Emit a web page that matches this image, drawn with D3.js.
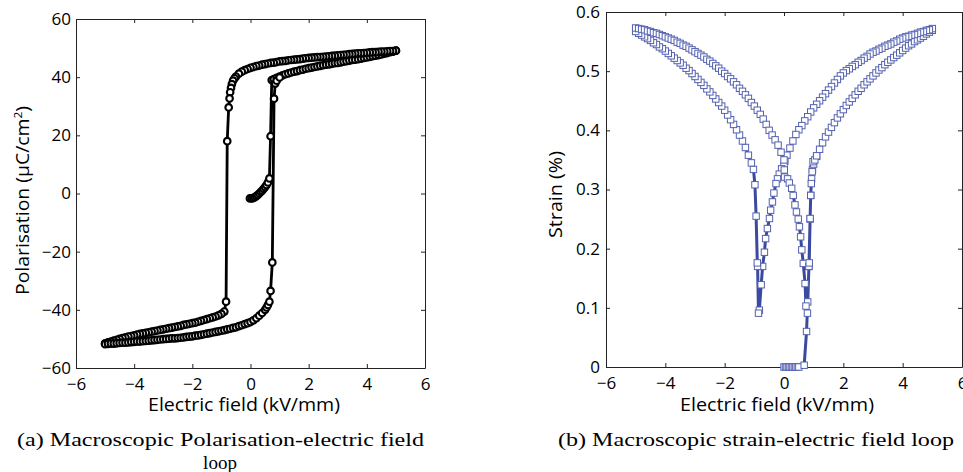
<!DOCTYPE html>
<html>
<head>
<meta charset="utf-8">
<script src="https://cdn.jsdelivr.net/npm/d3@7/dist/d3.min.js"></script>
<style>
  html, body { margin: 0; padding: 0; background: #fff; }
  svg { display: block; }
  .tick text { font-family: "Open Sans", sans-serif; font-size: 17px; fill: #000; }
  .axis path, .axis line { stroke: #222; }
</style>
</head>
<body>
<svg id="fig" width="963" height="472"></svg>
<script>
// ---- axis ticks ----
const fieldTicks = [-6, -4, -2, 0, 2, 4, 6];
const polarisationTicks = [-60, -40, -20, 0, 20, 40, 60];
const strainTicks = [0, 0.1, 0.2, 0.3, 0.4, 0.5, 0.6];

// ---- (a) polarisation vs electric field, [E (kV/mm), P (uC/cm^2)] ----
// virgin loading from zero field up to +5 kV/mm
const peVirgin = [
  [-0.02,-1.7],[0.05,-1.7],[0.1,-1.5],[0.15,-1.3],[0.2,-0.9],[0.25,-0.5],[0.3,0.0],[0.35,0.5],
  [0.4,1.0],[0.45,1.6],[0.5,2.2],[0.55,2.9],[0.6,3.8],[0.65,5.2],[0.69,19.7],[0.73,39.0],
  [0.8,39.3],[0.9,39.8],[1.0,40.2],[1.1,40.6],[1.2,41.0],[1.3,41.3],[1.4,41.6],[1.5,41.9],
  [1.6,42.1],[1.7,42.4],[1.8,42.6],[1.9,42.9],[2.0,43.1],[2.1,43.3],[2.2,43.5],[2.3,43.7],
  [2.4,43.9],[2.5,44.1],[2.6,44.3],[2.7,44.4],[2.8,44.6],[2.9,44.8],[3.0,44.9],[3.1,45.1],
  [3.2,45.3],[3.3,45.5],[3.4,45.7],[3.5,45.9],[3.6,46.0],[3.7,46.2],[3.8,46.4],[3.9,46.6],
  [4.0,46.8],[4.1,47.0],[4.2,47.2],[4.3,47.4],[4.4,47.6],[4.5,47.8],[4.6,48.1],[4.7,48.3],
  [4.8,48.6],[4.9,48.8],[5.0,49.1]
];
// unloading from +5 down to -5 kV/mm
const peDescending = [
  [5.0,49.1],[4.9,49.0],[4.8,49.0],[4.7,48.9],[4.6,48.8],[4.5,48.8],[4.4,48.7],[4.3,48.6],
  [4.2,48.6],[4.1,48.5],[4.0,48.4],[3.9,48.3],[3.8,48.2],[3.7,48.2],[3.6,48.1],[3.5,48.0],
  [3.4,47.9],[3.3,47.8],[3.2,47.7],[3.1,47.6],[3.0,47.5],[2.9,47.4],[2.8,47.3],[2.7,47.2],
  [2.6,47.1],[2.5,47.0],[2.4,46.9],[2.3,46.9],[2.2,46.8],[2.1,46.7],[2.0,46.6],[1.9,46.5],
  [1.8,46.4],[1.7,46.2],[1.6,46.1],[1.5,46.0],[1.4,45.9],[1.3,45.8],[1.2,45.6],[1.1,45.5],
  [1.0,45.4],[0.9,45.2],[0.8,45.0],[0.7,44.9],[0.6,44.7],[0.5,44.5],[0.4,44.3],[0.3,44.0],
  [0.2,43.8],[0.1,43.5],[0.0,43.2],[-0.1,42.8],[-0.2,42.4],[-0.3,41.9],[-0.4,41.2],[-0.5,40.2],
  [-0.55,39.6],[-0.6,38.8],[-0.64,37.6],[-0.67,36.3],[-0.7,34.8],[-0.72,32.7],[-0.75,29.6],
  [-0.8,18.0],[-0.84,-37.2],[-0.9,-40.6],
  [-1.0,-41.4],[-1.1,-41.9],[-1.2,-42.3],[-1.3,-42.6],[-1.4,-42.9],[-1.5,-43.2],[-1.6,-43.5],
  [-1.7,-43.8],[-1.8,-44.1],[-1.9,-44.4],[-2.0,-44.6],[-2.1,-44.8],[-2.2,-45.0],[-2.3,-45.2],
  [-2.4,-45.5],[-2.5,-45.7],[-2.6,-45.9],[-2.7,-46.1],[-2.8,-46.3],[-2.9,-46.5],[-3.0,-46.7],
  [-3.1,-46.9],[-3.2,-47.1],[-3.3,-47.3],[-3.4,-47.5],[-3.5,-47.7],[-3.6,-47.9],[-3.7,-48.1],
  [-3.8,-48.3],[-3.9,-48.5],[-4.0,-48.8],[-4.1,-49.0],[-4.2,-49.2],[-4.3,-49.5],[-4.4,-49.7],
  [-4.5,-50.0],[-4.6,-50.3],[-4.7,-50.6],[-4.8,-50.9],[-4.9,-51.2],[-5.0,-51.5]
];
// reloading from -5 kV/mm back through positive switching
const peAscending = [
  [-5.0,-51.8],[-4.9,-51.7],[-4.8,-51.6],[-4.7,-51.6],[-4.6,-51.5],[-4.5,-51.4],[-4.4,-51.3],
  [-4.3,-51.3],[-4.2,-51.2],[-4.1,-51.1],[-4.0,-51.0],[-3.9,-50.9],[-3.8,-50.9],[-3.7,-50.8],
  [-3.6,-50.7],[-3.5,-50.6],[-3.4,-50.5],[-3.3,-50.4],[-3.2,-50.3],[-3.1,-50.2],[-3.0,-50.1],
  [-2.9,-50.0],[-2.8,-49.9],[-2.7,-49.8],[-2.6,-49.8],[-2.5,-49.7],[-2.4,-49.6],[-2.3,-49.5],
  [-2.2,-49.3],[-2.1,-49.2],[-2.0,-49.1],[-1.9,-48.9],[-1.8,-48.8],[-1.7,-48.6],[-1.6,-48.4],
  [-1.5,-48.2],[-1.4,-48.0],[-1.3,-47.8],[-1.2,-47.6],[-1.1,-47.4],[-1.0,-47.2],[-0.9,-47.0],
  [-0.8,-46.7],[-0.7,-46.5],[-0.6,-46.2],[-0.5,-46.0],[-0.4,-45.6],[-0.3,-45.3],[-0.2,-44.9],
  [-0.1,-44.6],[0.0,-44.2],[0.1,-43.6],[0.2,-42.9],[0.3,-42.0],[0.4,-41.1],[0.5,-40.0],
  [0.55,-39.2],[0.6,-38.3],[0.65,-37.2],[0.69,-33.5],[0.75,-23.7],[0.81,32.6],[0.85,37.8],
  [0.9,38.8],[1.0,39.9]
];

// ---- (b) strain vs electric field, [E (kV/mm), S (%)] ----
const seVirgin = [
  [0.0,0],[0.05,0],[0.1,0],[0.15,0],[0.2,0],[0.25,0],[0.3,0],[0.35,0],[0.4,0],[0.45,0],[0.5,0],
  [0.68,0.003],[0.76,0.06],[0.8,0.11],[0.84,0.17],[0.88,0.25],[0.9,0.29],[0.93,0.318],
  [0.96,0.334],[1.0,0.343],[1.1,0.356],[1.2,0.368],[1.3,0.379],[1.4,0.389],[1.5,0.397],
  [1.6,0.405],[1.7,0.413],[1.8,0.421],[1.9,0.428],[2.0,0.435],[2.1,0.442],[2.2,0.448],
  [2.3,0.454],[2.4,0.460],[2.5,0.466],[2.6,0.471],[2.7,0.477],[2.8,0.482],[2.9,0.487],
  [3.0,0.492],[3.1,0.497],[3.2,0.502],[3.3,0.506],[3.4,0.511],[3.5,0.515],[3.6,0.519],
  [3.7,0.523],[3.8,0.527],[3.9,0.531],[4.0,0.535],[4.1,0.539],[4.2,0.543],[4.3,0.546],
  [4.4,0.550],[4.5,0.553],[4.6,0.556],[4.7,0.559],[4.8,0.563],[4.9,0.566],[5.0,0.569]
];
const seDescending = [
  [5.0,0.572],[4.9,0.570],[4.8,0.569],[4.7,0.567],[4.6,0.566],[4.5,0.564],[4.4,0.562],
  [4.3,0.561],[4.2,0.559],[4.1,0.558],[4.0,0.556],[3.9,0.554],[3.8,0.551],[3.7,0.549],
  [3.6,0.546],[3.5,0.544],[3.4,0.542],[3.3,0.539],[3.2,0.537],[3.1,0.534],[3.0,0.532],
  [2.9,0.529],[2.8,0.525],[2.7,0.522],[2.6,0.518],[2.5,0.515],[2.4,0.511],[2.3,0.508],
  [2.2,0.504],[2.1,0.501],[2.0,0.497],[1.9,0.492],[1.8,0.486],[1.7,0.480],[1.6,0.474],
  [1.5,0.468],[1.4,0.462],[1.3,0.456],[1.2,0.450],[1.1,0.444],[1.0,0.438],[0.9,0.431],
  [0.8,0.423],[0.7,0.416],[0.6,0.408],[0.5,0.401],[0.4,0.393],[0.3,0.382],[0.2,0.370],
  [0.1,0.358],[0.03,0.348],[0.0,0.340],
  [-0.08,0.335],[-0.16,0.326],[-0.22,0.318],[-0.27,0.310],[-0.34,0.294],[-0.39,0.279],
  [-0.45,0.265],[-0.49,0.251],[-0.56,0.234],[-0.62,0.217],[-0.66,0.194],[-0.72,0.170],
  [-0.77,0.139],[-0.83,0.096],[-0.86,0.091],[-0.89,0.170],[-0.90,0.176],[-0.94,0.255],
  [-0.98,0.308],[-1.03,0.334],
  [-1.1,0.345],[-1.2,0.358],[-1.3,0.371],[-1.4,0.382],[-1.5,0.392],[-1.6,0.401],[-1.7,0.410],
  [-1.8,0.418],[-1.9,0.426],[-2.0,0.434],[-2.1,0.441],[-2.2,0.447],[-2.3,0.453],[-2.4,0.459],
  [-2.5,0.465],[-2.6,0.470],[-2.7,0.476],[-2.8,0.481],[-2.9,0.486],[-3.0,0.491],[-3.1,0.496],
  [-3.2,0.501],[-3.3,0.505],[-3.4,0.510],[-3.5,0.514],[-3.6,0.518],[-3.7,0.522],[-3.8,0.526],
  [-3.9,0.530],[-4.0,0.534],[-4.1,0.538],[-4.2,0.541],[-4.3,0.545],[-4.4,0.548],[-4.5,0.552],
  [-4.6,0.555],[-4.7,0.558],[-4.8,0.561],[-4.9,0.564],[-5.0,0.567]
];
const seAscending = [
  [-5.0,0.573],[-4.9,0.572],[-4.8,0.571],[-4.7,0.570],[-4.6,0.568],[-4.5,0.567],[-4.4,0.565],
  [-4.3,0.564],[-4.2,0.562],[-4.1,0.560],[-4.0,0.558],[-3.9,0.556],[-3.8,0.554],[-3.7,0.552],
  [-3.6,0.549],[-3.5,0.547],[-3.4,0.544],[-3.3,0.542],[-3.2,0.539],[-3.1,0.536],[-3.0,0.533],
  [-2.9,0.530],[-2.8,0.527],[-2.7,0.524],[-2.6,0.520],[-2.5,0.517],[-2.4,0.513],[-2.3,0.509],
  [-2.2,0.505],[-2.1,0.500],[-2.0,0.496],[-1.9,0.491],[-1.8,0.487],[-1.7,0.482],[-1.6,0.477],
  [-1.5,0.471],[-1.4,0.466],[-1.3,0.460],[-1.2,0.454],[-1.1,0.447],[-1.0,0.441],[-0.9,0.434],
  [-0.8,0.427],[-0.7,0.419],[-0.6,0.410],[-0.5,0.400],[-0.4,0.392],[-0.3,0.384],[-0.2,0.375],
  [-0.1,0.363],[0.0,0.350],
  [0.01,0.333],[0.02,0.321],[0.12,0.318],[0.18,0.311],[0.26,0.302],[0.31,0.290],[0.37,0.274],
  [0.42,0.262],[0.48,0.250],[0.52,0.237],[0.56,0.220],[0.60,0.198],[0.65,0.175],[0.71,0.141],
  [0.74,0.103],[0.79,0.091],[0.84,0.170],[0.85,0.176],[0.88,0.251],[0.90,0.290],[0.92,0.310],
  [0.95,0.330],[0.98,0.347],[1.04,0.350],[1.1,0.357]
];

// ---- drawing ----
const svg = d3.select("#fig");

function framedAxes(g, x, y, xTicks, yTicks, yFormat, yPad) {
  const [x0, x1] = x.range();
  const [y0, y1] = y.range();
  g.append("g").attr("class", "axis").attr("transform", `translate(0,${y0})`)
    .call(d3.axisBottom(x).tickValues(xTicks).tickSizeInner(-4).tickSizeOuter(0).tickPadding(10));
  g.append("g").attr("class", "axis").attr("transform", `translate(0,${y1})`)
    .call(d3.axisTop(x).tickValues(xTicks).tickSizeInner(-4).tickSizeOuter(0).tickFormat(""));
  g.append("g").attr("class", "axis").attr("transform", `translate(${x0},0)`)
    .call(d3.axisLeft(y).tickValues(yTicks).tickSizeInner(-4).tickSizeOuter(0).tickPadding(yPad).tickFormat(yFormat));
  g.append("g").attr("class", "axis").attr("transform", `translate(${x1},0)`)
    .call(d3.axisRight(y).tickValues(yTicks).tickSizeInner(-4).tickSizeOuter(0).tickFormat(""));
  g.selectAll(".axis path").attr("stroke-width", 1);
}

// panel (a)
const xA = d3.scaleLinear().domain([-6, 6]).range([76, 425]);
const yA = d3.scaleLinear().domain([-60, 60]).range([368, 19]);
const gA = svg.append("g");
framedAxes(gA, xA, yA, fieldTicks, polarisationTicks, d3.format("d"), 5);

const peLoop = peVirgin.concat(peDescending, peAscending);
const lineA = d3.line().x(d => xA(d[0])).y(d => yA(d[1]));
gA.append("path").datum(peLoop).attr("d", lineA)
  .attr("fill", "none").attr("stroke", "#000").attr("stroke-width", 2.8)
  .attr("stroke-linejoin", "round");
gA.append("g").selectAll("circle").data(peLoop).join("circle")
  .attr("cx", d => xA(d[0])).attr("cy", d => yA(d[1])).attr("r", 3.3)
  .attr("fill", "#fff").attr("stroke", "#000").attr("stroke-width", 2.1);

// panel (b)
const xB = d3.scaleLinear().domain([-6, 6]).range([606, 962]);
const yB = d3.scaleLinear().domain([0, 0.6]).range([367, 12]);
const gB = svg.append("g");
framedAxes(gB, xB, yB, fieldTicks, strainTicks, d => d === 0 ? "0" : d3.format(".1f")(d), 6);

const seLoop = seVirgin.concat(seDescending, seAscending);
const lineB = d3.line().x(d => xB(d[0])).y(d => yB(d[1]));
gB.append("path").datum(seLoop).attr("d", lineB)
  .attr("fill", "none").attr("stroke", "#3a4aa0").attr("stroke-width", 3)
  .attr("stroke-linejoin", "round");
const sq = 6.4;
gB.append("g").selectAll("rect").data(seLoop).join("rect")
  .attr("x", d => xB(d[0]) - sq / 2).attr("y", d => yB(d[1]) - sq / 2)
  .attr("width", sq).attr("height", sq)
  .attr("fill", "#fff").attr("stroke", "#5461b0").attr("stroke-width", 1);

// axis titles
const sans = '"Open Sans", sans-serif';
svg.append("text").attr("x", 148).attr("y", 411).attr("font-family", sans).attr("font-size", 18)
  .attr("textLength", 192).attr("lengthAdjust", "spacingAndGlyphs").text("Electric field (kV/mm)");
svg.append("text").attr("x", 680).attr("y", 411).attr("font-family", sans).attr("font-size", 18)
  .attr("textLength", 194).attr("lengthAdjust", "spacingAndGlyphs").text("Electric field (kV/mm)");

const yLabA = svg.append("text").attr("transform", "translate(29,295) rotate(-90)")
  .attr("font-family", sans).attr("font-size", 18)
  .attr("textLength", 189).attr("lengthAdjust", "spacingAndGlyphs");
yLabA.append("tspan").text("Polarisation (\u03bcC/cm");
yLabA.append("tspan").attr("font-size", 11).attr("dy", -7).text("2");
yLabA.append("tspan").attr("dy", 7).text(")");

svg.append("text").attr("transform", "translate(562,238) rotate(-90)")
  .attr("font-family", sans).attr("font-size", 18)
  .attr("textLength", 87).attr("lengthAdjust", "spacingAndGlyphs").text("Strain (%)");

// sub-figure captions
const serif = '"Liberation Serif", "DejaVu Serif", serif';
svg.append("text").attr("x", 17).attr("y", 446).attr("font-family", serif).attr("font-size", 19)
  .attr("textLength", 407).attr("lengthAdjust", "spacingAndGlyphs")
  .text("(a) Macroscopic Polarisation-electric field");
svg.append("text").attr("x", 220).attr("y", 469).attr("text-anchor", "middle")
  .attr("font-family", serif).attr("font-size", 19).text("loop");
svg.append("text").attr("x", 558).attr("y", 446).attr("font-family", serif).attr("font-size", 19)
  .attr("textLength", 396).attr("lengthAdjust", "spacingAndGlyphs")
  .text("(b) Macroscopic strain-electric field loop");
</script>
</body>
</html>
